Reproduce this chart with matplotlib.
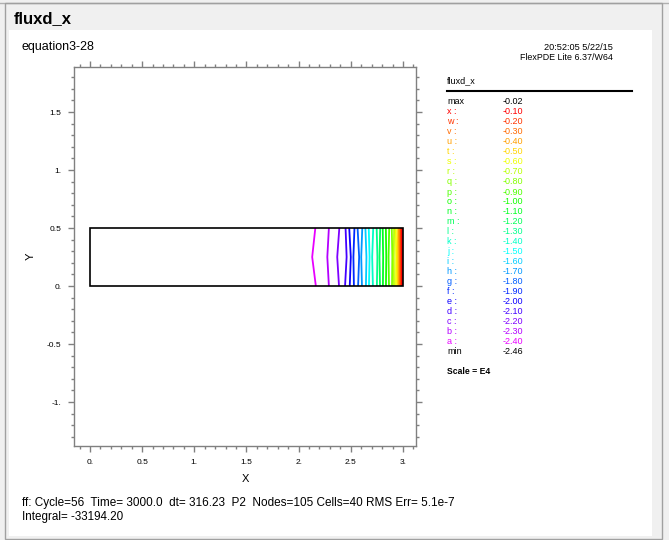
import numpy as np
import matplotlib
matplotlib.use("Agg")
import matplotlib.pyplot as plt
from matplotlib.patches import Rectangle
from matplotlib.ticker import MultipleLocator, FuncFormatter

plt.rcParams['font.family'] = ['Liberation Sans', 'DejaVu Sans']

# contour levels and the letters FlexPDE gives them
levels = [-2.4, -2.3, -2.2, -2.1, -2.0, -1.9, -1.8, -1.7, -1.6, -1.5, -1.4, -1.3,
          -1.2, -1.1, -1.0, -0.9, -0.8, -0.7, -0.6, -0.5, -0.4, -0.3, -0.2, -0.1]
letters = list("abcdefghijklmnopqrstuvwx")
vmax = -0.02
vmin = -2.46

# fluxd_x along X at the bottom, middle and top of the strip,
# read off where each contour sits (lines wobble a little on the mesh)
prof_x_bot = [0.0, 2.165, 2.29, 2.387, 2.445, 2.49, 2.53, 2.57, 2.607, 2.645, 2.674,
              2.712, 2.75, 2.78, 2.808, 2.837, 2.866, 2.895, 2.914, 2.933, 2.952,
              2.962, 2.972, 2.982, 2.99, 3.0]
prof_x_mid = [0.0, 2.13, 2.275, 2.37, 2.46, 2.50, 2.525, 2.58, 2.60, 2.65, 2.68,
              2.705, 2.755, 2.775, 2.81, 2.84, 2.862, 2.898, 2.912, 2.935, 2.95,
              2.963, 2.972, 2.982, 2.99, 3.0]
prof_x_top = [0.0, 2.16, 2.29, 2.39, 2.45, 2.485, 2.535, 2.565, 2.61, 2.64, 2.672,
              2.715, 2.748, 2.782, 2.806, 2.836, 2.868, 2.893, 2.915, 2.932, 2.953,
              2.961, 2.973, 2.981, 2.99, 3.0]
prof_y = [0.0, 0.25, 0.5]
prof_v = [vmin] + levels + [vmax]

header_left = "equation3-28"
header_right = ["20:52:05 5/22/15", "FlexPDE Lite 6.37/W64"]
footer = ["ff: Cycle=56  Time= 3000.0  dt= 316.23  P2  Nodes=105 Cells=40 RMS Err= 5.1e-7",
          "Integral= -33194.20"]

W, H = 669, 540
fig = plt.figure(figsize=(W / 100, H / 100), dpi=100)
fig.patch.set_facecolor('#f0f0f0')


def fx(x):
    return x / W


def fy(y):
    return 1 - y / H


# window chrome: group box + white panel (kept behind the axes)
fig.add_artist(plt.Line2D([fx(0), fx(W)], [fy(3), fy(3)], color='#b0b0b0', lw=1,
                          zorder=-3))
fig.add_artist(Rectangle((fx(5), fy(539)), fx(657), 536 / H, fill=False,
                         edgecolor='#a0a0a0', lw=1, zorder=-3))
fig.add_artist(Rectangle((fx(9), fy(536)), fx(643), 506 / H, facecolor='white',
                         edgecolor='none', zorder=-2))
fig.text(fx(14), fy(19), "fluxd_x", fontsize=12, fontweight='bold', va='center',
         ha='left', bbox=dict(facecolor='#f0f0f0', edgecolor='none', pad=1))

cols = [plt.cm.hsv(h) for h in np.linspace(0.83, 0.0, len(levels))]

# plot axes
ax = fig.add_axes([fx(74), fy(446), (416 - 74) / W, (446 - 67) / H])
ax.patch.set_alpha(0)
ax.set_xlim(-0.153, 3.125)
ax.set_ylim(-1.379, 1.888)

X = np.array([prof_x_bot, prof_x_mid, prof_x_top])
Y = np.repeat(np.array(prof_y)[:, None], X.shape[1], axis=1)
Z = np.tile(prof_v, (len(prof_y), 1))
ax.contour(X, Y, Z, levels=levels, colors=cols, linewidths=1.3)
ax.add_patch(Rectangle((0, 0), 3, 0.5, fill=False, edgecolor='black', lw=1.2, zorder=5))

for s in ax.spines.values():
    s.set_color('#808080')
    s.set_linewidth(1.0)
ax.xaxis.set_major_locator(MultipleLocator(0.5))
ax.xaxis.set_minor_locator(MultipleLocator(0.1))
ax.yaxis.set_major_locator(MultipleLocator(0.5))
ax.yaxis.set_minor_locator(MultipleLocator(0.1))


def tick_fmt(v, pos):
    s = "%g" % round(v, 2)
    if '.' not in s:
        s += '.'
    return s


ax.xaxis.set_major_formatter(FuncFormatter(tick_fmt))
ax.yaxis.set_major_formatter(FuncFormatter(tick_fmt))
ax.tick_params(which='both', direction='out', color='#808080', top=True, right=True,
               labelsize=6, width=1.0)
ax.tick_params(which='major', length=4, pad=5)
ax.tick_params(which='minor', length=2.5)
ax.set_xlabel("X", fontsize=8, labelpad=6)
ax.set_ylabel("Y", fontsize=8, rotation=90, labelpad=8)

# headers and footers
fig.text(fx(22), fy(47), header_left, fontsize=9, va='center', ha='left')
fig.text(fx(613), fy(47), header_right[0], fontsize=6.6, va='center', ha='right')
fig.text(fx(613), fy(57), header_right[1], fontsize=6.4, va='center', ha='right')
fig.text(fx(22), fy(503), footer[0], fontsize=8.5, va='center', ha='left')
fig.text(fx(22), fy(517), footer[1], fontsize=8.4, va='center', ha='left')

# legend
fig.text(fx(447), fy(81), "fluxd_x", fontsize=6.5, va='center', ha='left')
fig.add_artist(plt.Line2D([fx(447), fx(632)], [fy(91), fy(91)], color='black', lw=1.5))
rows = [("max", vmax, 'black')]
for lv, lt, c in zip(levels[::-1], letters[::-1], cols[::-1]):
    rows.append((lt + " :", lv, c))
rows.append(("min", vmin, 'black'))
for i, (name, val, c) in enumerate(rows):
    yy = 102 + i * 10
    fig.text(fx(447), fy(yy), name, fontsize=6.5, color=c, va='center', ha='left')
    fig.text(fx(523), fy(yy), "%.2f" % val, fontsize=6.5, color=c, va='center', ha='right')
fig.text(fx(447), fy(371), "Scale = E4", fontsize=6.2, fontweight='bold',
         va='center', ha='left')

fig.savefig("out.png", dpi=100, facecolor=fig.get_facecolor())
